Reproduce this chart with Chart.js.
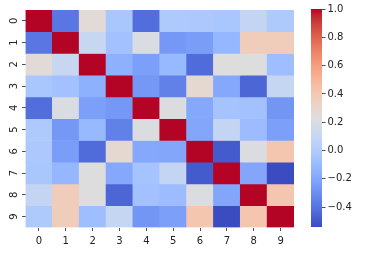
<!DOCTYPE html>
<html>
<head>
<meta charset="utf-8">
<script src="https://cdn.jsdelivr.net/npm/chart.js@4/dist/chart.umd.min.js"></script>
<style>
  html, body { margin: 0; padding: 0; background: #fff; }
  #wrap { position: relative; width: 370px; height: 255px; overflow: hidden; }
  canvas { position: absolute; top: 0; }
  #heat { left: 0; }
  #cbar { left: 300px; }
</style>
</head>
<body>
<div id="wrap">
  <canvas id="heat" width="370" height="255"></canvas>
  <canvas id="cbar" width="70" height="255"></canvas>
</div>
<script>
// ---- data ----
const colLabels = ['0','1','2','3','4','5','6','7','8','9'];
const rowLabels = ['0','1','2','3','4','5','6','7','8','9'];
const corr = [
  [ 1.00, -0.39,  0.26, -0.03, -0.42, -0.01, -0.02, -0.03,  0.09, -0.01],
  [-0.39,  1.00,  0.11, -0.06,  0.21, -0.26, -0.24, -0.12,  0.37,  0.37],
  [ 0.26,  0.11,  1.00, -0.15, -0.23, -0.11, -0.43,  0.23,  0.23, -0.08],
  [-0.03, -0.06, -0.15,  1.00, -0.26, -0.35,  0.28, -0.19, -0.45,  0.10],
  [-0.42,  0.21, -0.23, -0.26,  1.00,  0.22, -0.19, -0.05, -0.06, -0.27],
  [-0.01, -0.26, -0.11, -0.35,  0.22,  1.00, -0.20,  0.09, -0.09, -0.23],
  [-0.02, -0.24, -0.43,  0.28, -0.19, -0.20,  1.00, -0.49,  0.22,  0.41],
  [-0.03, -0.12,  0.23, -0.19, -0.05,  0.09, -0.49,  1.00, -0.20, -0.54],
  [ 0.09,  0.37,  0.23, -0.45, -0.06, -0.09,  0.22, -0.20,  1.00,  0.41],
  [-0.01,  0.37, -0.08,  0.10, -0.27, -0.23,  0.41, -0.54,  0.41,  1.00]
];
const vmin = -0.54;
const vmax = 1.0;
const cbarTicks = [-0.4, -0.2, 0.0, 0.2, 0.4, 0.6, 0.8, 1.0];

// ---- coolwarm colormap (matplotlib) ----
const CW = [
[0.2298057,0.298717966,0.753683153],[0.26623388,0.353094838,0.801466763],[0.30386891,0.406535296,0.84495867],
[0.342804478,0.458757618,0.883725899],[0.38301334,0.50941904,0.917387822],[0.424369608,0.558148092,0.945619588],
[0.46666708,0.604562568,0.968154911],[0.509635204,0.648280772,0.98478814],[0.552953156,0.688929332,0.995375608],
[0.596262162,0.726149107,0.999836203],[0.639176211,0.759599947,0.998151185],[0.681291281,0.788964712,0.990363227],
[0.722193294,0.813952739,0.976574709],[0.761464949,0.834302879,0.956945269],[0.798691636,0.849786142,0.931688648],
[0.833466556,0.860207984,0.901068838],[0.865395197,0.86541021,0.865395561],[0.897787179,0.848937047,0.820880546],
[0.924127593,0.827384882,0.774508472],[0.944468518,0.800927443,0.726736146],[0.958852946,0.769767752,0.678007945],
[0.96732803,0.734132809,0.628751763],[0.969954137,0.694266682,0.579375448],[0.966811177,0.650421156,0.530263762],
[0.958003065,0.602842431,0.481775914],[0.943660866,0.551750968,0.434243684],[0.923944917,0.49730856,0.387970225],
[0.89904617,0.439559467,0.343229596],[0.869186849,0.378313092,0.300267182],[0.834620542,0.312874446,0.259301199],
[0.795631745,0.24128379,0.220525627],[0.752534934,0.157246067,0.184115123],[0.705673158,0.01555616,0.150232812]
];
function coolwarm(t) {
  t = Math.max(0, Math.min(1, t));
  const p = t * (CW.length - 1);
  const i = Math.min(Math.floor(p), CW.length - 2);
  const f = p - i;
  const c = [0,1,2].map(k => Math.round(255 * (CW[i][k] + (CW[i+1][k] - CW[i][k]) * f)));
  return `rgb(${c[0]},${c[1]},${c[2]})`;
}
function colorOf(v) { return coolwarm((v - vmin) / (vmax - vmin)); }

Chart.defaults.font.family = "'DejaVu Sans', sans-serif";
Chart.defaults.font.size = 10;
Chart.defaults.color = '#222';
Chart.defaults.animation = false;

// ---- heatmap ----
const datasets = rowLabels.map((r, i) => ({
  label: 'row ' + r,
  data: colLabels.map(() => [i, i + 1]),
  backgroundColor: colLabels.map((c, j) => colorOf(corr[i][j])),
  borderWidth: 0,
  grouped: false,
  barPercentage: 1,
  categoryPercentage: 1
}));

new Chart(document.getElementById('heat'), {
  type: 'bar',
  data: { labels: colLabels, datasets },
  options: {
    responsive: false,
    events: [],
    layout: { padding: { top: 9, right: 76, left: 0, bottom: 0 } },
    plugins: { legend: { display: false }, tooltip: { enabled: false } },
    scales: {
      x: {
        grid: { display: true, offset: false, drawOnChartArea: false, drawTicks: true, tickLength: 3.5, color: '#222', tickWidth: 0.8 },
        border: { display: false },
        ticks: { padding: 4, maxRotation: 0, minRotation: 0 },
        afterFit: s => { s.height = 27.5; }
      },
      y: {
        type: 'linear',
        reverse: true,
        min: 0,
        max: rowLabels.length,
        grid: { display: true, drawOnChartArea: false, drawTicks: true, tickLength: 3.5, color: '#222', tickWidth: 0.8 },
        border: { display: false },
        afterBuildTicks: s => { s.ticks = rowLabels.map((r, i) => ({ value: i + 0.5 })); },
        ticks: {
          minRotation: 90, maxRotation: 90, crossAlign: 'center', padding: 4,
          callback: v => rowLabels[Math.floor(v)]
        },
        afterFit: s => { s.width = 25.5; }
      }
    }
  }
});

// ---- colorbar ----
new Chart(document.getElementById('cbar'), {
  type: 'bar',
  data: {
    labels: [''],
    datasets: [{
      data: [[vmin, vmax]],
      borderWidth: 0,
      barPercentage: 1,
      categoryPercentage: 1,
      backgroundColor: (c) => {
        const a = c.chart.chartArea;
        if (!a) return '#888';
        const g = c.chart.ctx.createLinearGradient(0, a.bottom, 0, a.top);
        for (let k = 0; k < CW.length; k++) {
          const t = k / (CW.length - 1);
          g.addColorStop(t, coolwarm(t));
        }
        return g;
      }
    }]
  },
  options: {
    responsive: false,
    events: [],
    layout: { padding: { top: 9, right: 0, left: 11, bottom: 28 } },
    plugins: { legend: { display: false }, tooltip: { enabled: false } },
    scales: {
      x: { display: false },
      y: {
        position: 'right',
        min: vmin,
        max: vmax,
        grid: { display: true, drawOnChartArea: false, drawTicks: true, tickLength: 3.5, color: '#222', tickWidth: 0.8 },
        border: { display: false },
        afterBuildTicks: s => { s.ticks = cbarTicks.map(v => ({ value: v })); },
        ticks: {
          padding: 2,
          callback: v => (Math.abs(v) < 1e-9 ? 0 : v).toFixed(1).replace('-', '\u2212')
        },
        afterFit: s => { s.width = 48; }
      }
    }
  }
});
</script>
</body>
</html>
